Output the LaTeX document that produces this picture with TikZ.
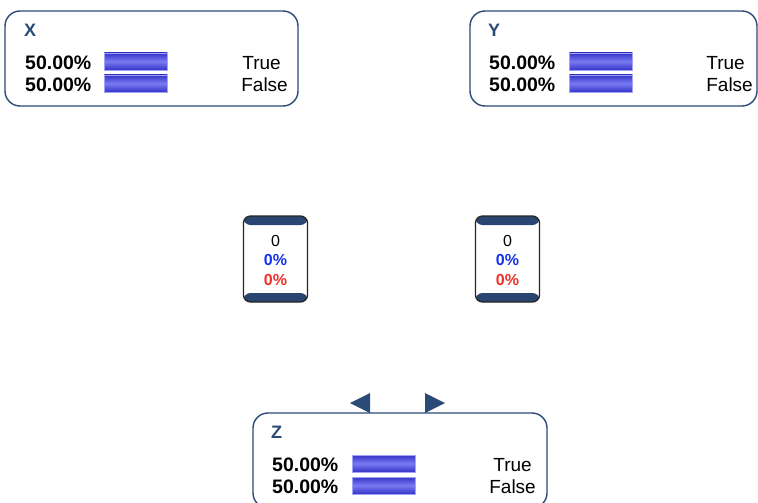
\documentclass[tikz,border=0pt]{standalone}
\usepackage{fontspec}
\setmainfont{Liberation Sans}
\definecolor{frame}{HTML}{2A4A78}
\definecolor{bandblue}{HTML}{2A4570}
\definecolor{bardark}{HTML}{3434C8}
\definecolor{barlight}{HTML}{7A7AF2}
\definecolor{pctblue}{HTML}{1432F0}
\definecolor{pctred}{HTML}{F03028}
\begin{document}
\begin{tikzpicture}[x=1pt,y=-1pt,
  bigbox/.style={draw=frame,line width=1.4pt,rounded corners=15pt,fill=white,minimum width=#1,minimum height=95pt,inner sep=0pt},
  title/.style={font=\fontsize{18}{18}\selectfont\bfseries,text=frame,anchor=west,inner sep=0pt},
  pct/.style={font=\fontsize{19.5}{19.5}\selectfont\bfseries,anchor=west,inner sep=0pt},
  state/.style={font=\fontsize{19}{19}\selectfont,anchor=east,inner sep=0pt},
  bar/.style={draw=barlight!70!white,line width=0.5pt,top color=bardark,bottom color=bardark,middle color=barlight,minimum width=63pt,minimum height=17pt,inner sep=0pt,anchor=west},
  smallbox/.style={draw=black!85,line width=1.3pt,rounded corners=7pt,fill=white,minimum width=64pt,minimum height=86pt,inner sep=0pt,
    path picture={\fill[bandblue] (path picture bounding box.north west) rectangle ([yshift=-9pt]path picture bounding box.north east);
                  \fill[bandblue] (path picture bounding box.south west) rectangle ([yshift=9pt]path picture bounding box.south east);}},
  small/.style={font=\fontsize{16}{16}\selectfont,inner sep=0pt},
  smallb/.style={font=\fontsize{16}{16}\selectfont\bfseries,inner sep=0pt},
  tri/.style={fill=frame}
]
\useasboundingbox (0,0) rectangle (758,503);
\fill[white] (0,0) rectangle (758,503);

% X
\node[bigbox=293pt] (X) at (151.5,58.5) {};
\node[title] (Xt) at (24,30) {X};
\node[pct] (Xp1) at (25,63) {50.00\%};
\node[pct] (Xp2) at (25,84.5) {50.00\%};
\node[bar] (Xb1) at (104,61.5) {};
\node[bar] (Xb2) at (104,83.5) {};
\node[state] (Xs1) at (281,63) {True};
\node[state] (Xs2) at (288,84.5) {False};

% Y
\node[bigbox=287pt] (Y) at (613.5,58.5) {};
\node[title] (Yt) at (488,30) {Y};
\node[pct] (Yp1) at (489,63) {50.00\%};
\node[pct] (Yp2) at (489,84.5) {50.00\%};
\node[bar] (Yb1) at (569,61.5) {};
\node[bar] (Yb2) at (569,83.5) {};
\node[state] (Ys1) at (745,63) {True};
\node[state] (Ys2) at (753,84.5) {False};

% Z
\node[bigbox=294pt] (Z) at (400,460.5) {};
\node[title] (Zt) at (271,432) {Z};
\node[pct] (Zp1) at (272,465) {50.00\%};
\node[pct] (Zp2) at (272,487) {50.00\%};
\node[bar] (Zb1) at (352,463.5) {};
\node[bar] (Zb2) at (352,485.5) {};
\node[state] (Zs1) at (532,465) {True};
\node[state] (Zs2) at (536,487) {False};

% small nodes
\node[smallbox] (A) at (275.5,259) {};
\node[small] (A0) at (275.5,241) {0};
\node[smallb,text=pctblue] (A1) at (275.5,260) {0\%};
\node[smallb,text=pctred] (A2) at (275.5,280) {0\%};

\node[smallbox] (B) at (507.5,259) {};
\node[small] (B0) at (507.5,241) {0};
\node[smallb,text=pctblue] (B1) at (507.5,260) {0\%};
\node[smallb,text=pctred] (B2) at (507.5,280) {0\%};

% arrowheads
\fill[tri] (350,403) -- (370,393) -- (370,413) -- cycle;
\fill[tri] (445,403) -- (425,393) -- (425,413) -- cycle;
\end{tikzpicture}
\end{document}
